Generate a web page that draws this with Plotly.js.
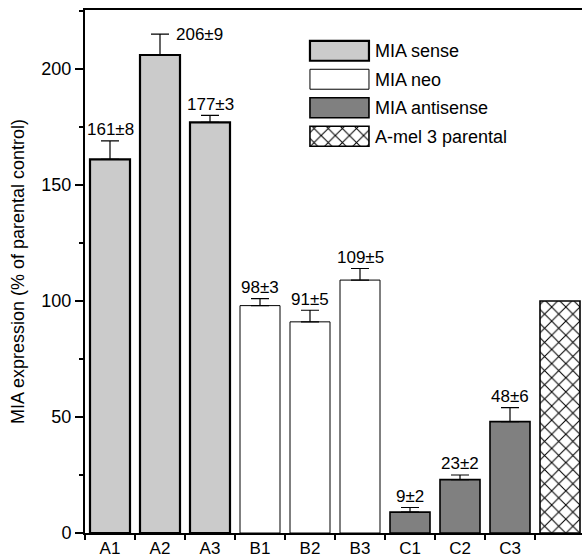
<!DOCTYPE html>
<html><head><meta charset="utf-8">
<script src="https://cdn.plot.ly/plotly-3.0.1.min.js"></script>
<style>html,body{margin:0;padding:0;background:#fff;overflow:hidden}</style>
</head><body><div id="chart" style="width:582px;height:560px"></div>
<script>
// ---- data ----
const senseLabels = ['A1', 'A2', 'A3'];
const senseValues = [161, 206, 177];
const senseErrors = [8, 9, 3];
const neoLabels = ['B1', 'B2', 'B3'];
const neoValues = [98, 91, 109];
const neoErrors = [3, 5, 5];
const antiLabels = ['C1', 'C2', 'C3'];
const antiValues = [9, 23, 48];
const antiErrors = [2, 2, 6];
const parentalLabels = ['A-mel 3 parental'];
const parentalValues = [100];
const seriesNames = ['MIA sense', 'MIA neo', 'MIA antisense', 'A-mel 3 parental'];
const tickLabels = ['A1', 'A2', 'A3', 'B1', 'B2', 'B3', 'C1', 'C2', 'C3'];
const yTitle = 'MIA expression (% of parental control)';

// ---- styles ----
const FONT = 'Liberation Sans, Arial, Helvetica, sans-serif';
const fills = ['#cbcbcb', '#ffffff', '#808080', '#ffffff'];
const lineWidths = [2.2, 1, 1.6, 1.6];
const patterns = ['', '', '', 'x'];

function markerFor(i) {
  const m = {color: fills[i], line: {color: '#000', width: lineWidths[i]}};
  if (patterns[i]) {
    m.pattern = {shape: patterns[i], fgcolor: '#000', bgcolor: '#fff', size: 10, solidity: 0.2};
  }
  return m;
}

function barTrace(x, y, err, i) {
  const t = {
    type: 'bar', x: x, y: y, width: 0.8, xaxis: 'x', yaxis: 'y',
    name: seriesNames[i], showlegend: false, hoverinfo: 'none',
    marker: markerFor(i)
  };
  if (err) {
    t.error_y = {type: 'data', symmetric: false, array: err, arrayminus: err.map(() => 0),
      color: '#000', thickness: 1.2, width: 9};
  }
  return t;
}

const traces = [
  barTrace(senseLabels, senseValues, senseErrors, 0),
  barTrace(neoLabels, neoValues, neoErrors, 1),
  barTrace(antiLabels, antiValues, antiErrors, 2),
  barTrace(parentalLabels, parentalValues, null, 3)
];
// legend swatches, one small horizontal bar per series
seriesNames.forEach((name, i) => {
  traces.push({
    type: 'bar', orientation: 'h', y: [name], x: [1], base: [0],
    width: 0.7, xaxis: 'x2', yaxis: 'y2', showlegend: false, hoverinfo: 'none',
    marker: markerFor(i)
  });
});

const annotations = [];
function addLabels(labels, values, errors) {
  labels.forEach((l, k) => {
    const special = (l === 'A2');
    annotations.push({
      x: l, y: values[k] + errors[k], xref: 'x', yref: 'y',
      text: values[k] + '±' + errors[k], showarrow: false,
      font: {family: FONT, size: 17, color: '#000'},
      xanchor: special ? 'left' : 'center', yanchor: 'middle',
      xshift: special ? 14 : 0, yshift: special ? 0 : 11
    });
  });
}
addLabels(senseLabels, senseValues, senseErrors);
addLabels(neoLabels, neoValues, neoErrors);
addLabels(antiLabels, antiValues, antiErrors);

const allCats = senseLabels.concat(neoLabels, antiLabels, parentalLabels);

const layout = {
  width: 582, height: 560,
  margin: {l: 85, r: 0, t: 10, b: 27, pad: 0},
  paper_bgcolor: '#fff', plot_bgcolor: '#fff',
  font: {family: FONT, size: 18, color: '#000'},
  barmode: 'overlay',
  showlegend: false,
  xaxis: {
    type: 'category', categoryorder: 'array', categoryarray: allCats,
    range: [-0.5, 9.44], tickmode: 'array', tickvals: tickLabels, ticktext: tickLabels,
    tickson: 'boundaries', ticks: 'outside', ticklen: 5, tickwidth: 2, tickcolor: '#000',
    ticklabelstandoff: -1,
    showline: true, linewidth: 2, linecolor: '#000', mirror: true,
    showgrid: false, zeroline: false, fixedrange: true,
    tickfont: {family: FONT, size: 17, color: '#000'}
  },
  yaxis: {
    range: [0, 225.4], tickvals: [0, 50, 100, 150, 200],
    ticks: 'outside', ticklen: 8, tickwidth: 1.5, tickcolor: '#000',
    minor: {dtick: 25, tick0: 0, ticks: 'outside', ticklen: 4, tickwidth: 1.5, tickcolor: '#000', showgrid: false},
    showline: true, linewidth: 2, linecolor: '#000',
    showgrid: false, zeroline: false, fixedrange: true,
    tickfont: {family: FONT, size: 18, color: '#000'},
    title: {text: yTitle, font: {family: FONT, size: 18, color: '#000'}, standoff: 12}
  },
  xaxis2: {
    domain: [0.4467, 0.5773], range: [-0.05, 1.05], anchor: 'y2',
    showticklabels: false, ticks: '', showline: false, showgrid: false, zeroline: false, fixedrange: true
  },
  yaxis2: {
    domain: [0.7314, 0.9493], anchor: 'x2', type: 'category',
    categoryorder: 'array', categoryarray: seriesNames, autorange: 'reversed',
    side: 'right', ticks: '', showline: false, showgrid: false, zeroline: false, fixedrange: true,
    ticklabelstandoff: 2,
    tickfont: {family: FONT, size: 18, color: '#000'}
  },
  annotations: annotations
};

Plotly.newPlot('chart', traces, layout, {displayModeBar: false, staticPlot: true});
</script>
</body></html>
